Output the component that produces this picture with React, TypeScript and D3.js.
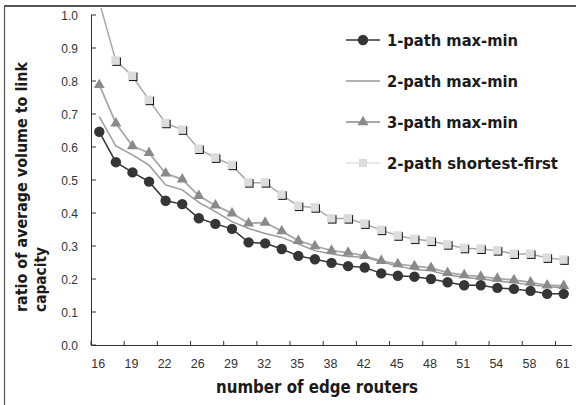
import * as d3 from 'd3';

// number of edge routers (only every other one is labelled on the axis)
const routers = [16, 18, 19, 21, 22, 24, 26, 27, 29, 30, 32, 34, 35, 37, 38, 40, 42, 43, 45, 46, 48, 50, 51, 53, 54, 56, 58, 59, 61];

const onePathMaxMin = [0.646, 0.554, 0.523, 0.495, 0.437, 0.427, 0.384, 0.367, 0.352, 0.311, 0.308, 0.291, 0.270, 0.260, 0.249, 0.239, 0.235, 0.217, 0.210, 0.207, 0.200, 0.190, 0.181, 0.181, 0.173, 0.170, 0.164, 0.155, 0.155];
const twoPathMaxMin = [0.692, 0.603, 0.576, 0.545, 0.485, 0.470, 0.432, 0.404, 0.374, 0.353, 0.338, 0.326, 0.306, 0.286, 0.276, 0.268, 0.266, 0.252, 0.239, 0.229, 0.225, 0.212, 0.205, 0.200, 0.194, 0.189, 0.182, 0.177, 0.173];
const threePathMaxMin = [0.788, 0.672, 0.603, 0.582, 0.520, 0.502, 0.452, 0.423, 0.399, 0.369, 0.371, 0.345, 0.316, 0.300, 0.286, 0.280, 0.270, 0.255, 0.245, 0.239, 0.234, 0.219, 0.212, 0.207, 0.201, 0.197, 0.190, 0.181, 0.179];
const twoPathShortestFirst = [1.04, 0.861, 0.815, 0.742, 0.672, 0.652, 0.594, 0.567, 0.545, 0.492, 0.492, 0.455, 0.421, 0.416, 0.383, 0.383, 0.367, 0.348, 0.331, 0.321, 0.315, 0.304, 0.293, 0.291, 0.286, 0.276, 0.276, 0.264, 0.258];

const seriesNames = ['1-path max-min', '2-path max-min', '3-path max-min', '2-path shortest-first'];
const yTicks = [0, 0.1, 0.2, 0.3, 0.4, 0.5, 0.6, 0.7, 0.8, 0.9, 1.0];

const font = '"Liberation Sans", Arial, sans-serif';
const heavy = '"DejaVu Sans", sans-serif';
const axisColor = '#333';

const plot = { left: 91, right: 572, top: 15, bottom: 345 };

const x = d3.scaleBand<number>().domain(routers).range([plot.left, plot.right]).padding(0);
const y = d3.scaleLinear().domain([0, 1]).range([plot.bottom, plot.top]);
const cx = (r: number) => (x(r) as number) + x.bandwidth() / 2;

const line = d3.line<number>()
  .x((_, i) => cx(routers[i]))
  .y((d) => y(d));

const triangle = d3.symbol().type(d3.symbolTriangle).size(52)();

const Circle = ({ px, py }: { px: number; py: number }) => (
  <circle cx={px} cy={py} r={5.2} fill="#353535" />
);
const Tri = ({ px, py }: { px: number; py: number }) => (
  <path d={triangle as string} transform={`translate(${px},${py})`} fill="#8a8a8a" />
);
const Square = ({ px, py }: { px: number; py: number }) => (
  <g>
    <rect x={px - 3.5} y={py - 3.5} width={8.5} height={8.5} fill="#111" />
    <rect x={px - 4.5} y={py - 4.5} width={8.5} height={8.5} fill="#dcdcdc" />
  </g>
);

const legendRows = [40, 81, 122, 163];
const legendTextWidths = [131, 131, 131, 171];

export default function App() {
  return (
    <svg width={576} height={405} style={{ position: 'absolute', left: 0, top: 0, background: '#fff' }}>
      <defs>
        <clipPath id="plotClip">
          <rect x={plot.left} y={8} width={plot.right - plot.left + 10} height={plot.bottom - 8} />
        </clipPath>
      </defs>
      {/* outer frame */}
      <line x1={4} x2={576} y1={6} y2={6} stroke="#555" strokeWidth={2} />
      <line x1={4.5} x2={4.5} y1={6} y2={405} stroke="#555" strokeWidth={1.2} />

      {/* y axis */}
      <line x1={plot.left + 0.5} x2={plot.left + 0.5} y1={y(1)} y2={plot.bottom} stroke={axisColor} strokeWidth={1} />
      {yTicks.map((t) => (
        <g key={t}>
          <line x1={plot.left} x2={plot.left + 5} y1={y(t)} y2={y(t)} stroke={axisColor} />
          <text x={78} y={y(t) + 4.5} textAnchor="end" fontSize={12} fontFamily={font} fill="#333">
            {t.toFixed(1)}
          </text>
        </g>
      ))}

      {/* x axis */}
      <line x1={plot.left} x2={plot.right} y1={plot.bottom + 0.5} y2={plot.bottom + 0.5} stroke={axisColor} />
      {routers.map((r, i) => i % 2 === 0 && (
        <g key={r}>
          <line x1={x(r)} x2={x(r)} y1={plot.bottom} y2={plot.bottom - 4} stroke={axisColor} />
          <text x={cx(r) - 1} y={368} textAnchor="middle" fontSize={12.5} fontFamily={font} fill="#333">
            {r}
          </text>
        </g>
      ))}

      {/* series */}
      <g clipPath="url(#plotClip)">
        <path d={line(twoPathShortestFirst) as string} fill="none" stroke="#a8a8a8" strokeWidth={1.5} />
        <path d={line(twoPathMaxMin) as string} fill="none" stroke="#9a9a9a" strokeWidth={1.5} />
        <path d={line(threePathMaxMin) as string} fill="none" stroke="#a8a8a8" strokeWidth={1.8} />
        <path d={line(onePathMaxMin) as string} fill="none" stroke="#353535" strokeWidth={1.5} />
        {twoPathShortestFirst.map((v, i) => <Square key={i} px={cx(routers[i])} py={y(v)} />)}
        {threePathMaxMin.map((v, i) => <Tri key={i} px={cx(routers[i])} py={y(v)} />)}
        {onePathMaxMin.map((v, i) => <Circle key={i} px={cx(routers[i])} py={y(v)} />)}
      </g>

      {/* legend */}
      <g>
        <line x1={346} x2={380} y1={legendRows[0]} y2={legendRows[0]} stroke="#353535" strokeWidth={1.5} />
        <Circle px={363} py={legendRows[0]} />
        <line x1={346} x2={380} y1={legendRows[1]} y2={legendRows[1]} stroke="#9a9a9a" strokeWidth={1.5} />
        <line x1={346} x2={380} y1={legendRows[2]} y2={legendRows[2]} stroke="#a8a8a8" strokeWidth={1.8} />
        <Tri px={363} py={legendRows[2]} />
        <line x1={346} x2={380} y1={legendRows[3]} y2={legendRows[3]} stroke="#e0e0e0" strokeWidth={1.5} />
        <rect x={359} y={legendRows[3] - 4} width={8} height={8} fill="#dcdcdc" />
        {seriesNames.map((name, i) => (
          <text key={name} x={387} y={legendRows[i] + 6} fontSize={16} fontWeight="bold" fontFamily={heavy}
            fill="#1a1a1a" textLength={legendTextWidths[i]} lengthAdjust="spacingAndGlyphs">
            {name}
          </text>
        ))}
      </g>

      {/* axis titles */}
      <text transform="translate(27,312) rotate(-90)" fontSize={15.5} fontWeight="bold" fontFamily={heavy}
        fill="#1a1a1a" textLength={250} lengthAdjust="spacingAndGlyphs">
        ratio of average volume to link
      </text>
      <text transform="translate(46,312) rotate(-90)" fontSize={15.5} fontWeight="bold" fontFamily={heavy}
        fill="#1a1a1a" textLength={65} lengthAdjust="spacingAndGlyphs">
        capacity
      </text>
      <text x={216} y={393} fontSize={18} fontWeight="bold" fontFamily={heavy} fill="#1a1a1a"
        textLength={202} lengthAdjust="spacingAndGlyphs">
        number of edge routers
      </text>
    </svg>
  );
}
